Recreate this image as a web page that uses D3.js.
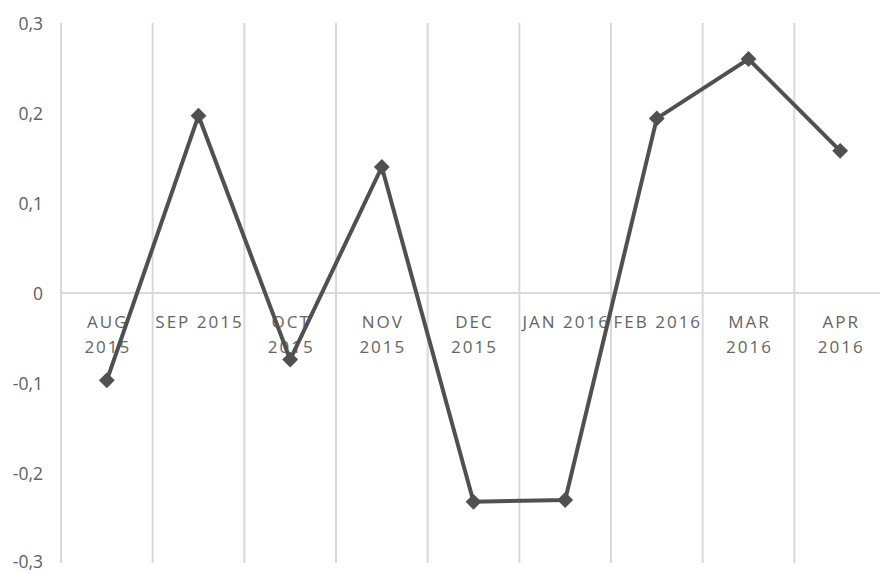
<!DOCTYPE html>
<html>
<head>
<meta charset="utf-8">
<script src="https://cdn.jsdelivr.net/npm/d3@7"></script>
<style>
  html, body { margin: 0; padding: 0; background: #fff; }
  svg { display: block; }
</style>
</head>
<body>
<svg id="chart" width="880" height="573"></svg>
<script>
const categories = [
  ["AUG", "2015"], ["SEP 2015"], ["OCT", "2015"], ["NOV", "2015"], ["DEC", "2015"],
  ["JAN 2016"], ["FEB 2016"], ["MAR", "2016"], ["APR", "2016"]
];
const values = [-0.097, 0.197, -0.074, 0.14, -0.232, -0.230, 0.194, 0.26, 0.158];
const yTicks = [-0.3, -0.2, -0.1, 0, 0.1, 0.2, 0.3];
const yTickLabels = ["-0,3", "-0,2", "-0,1", "0", "0,1", "0,2", "0,3"];

const svg = d3.select("#chart");
const plotLeft = 61, plotRight = 886, plotTop = 23, plotBottom = 563;

const x = d3.scaleBand().domain(d3.range(categories.length)).range([plotLeft, plotRight]).padding(0);
const y = d3.scaleLinear().domain([-0.3, 0.3]).range([plotBottom, plotTop]);

const grid = "#d9d9d9";
// vertical category separators
svg.append("g").selectAll("line").data(d3.range(categories.length)).join("line")
  .attr("x1", d => x(d)).attr("x2", d => x(d))
  .attr("y1", plotTop).attr("y2", plotBottom)
  .attr("stroke", grid).attr("stroke-width", 2);

// zero line
svg.append("line")
  .attr("x1", plotLeft).attr("x2", plotRight)
  .attr("y1", y(0)).attr("y2", y(0))
  .attr("stroke", grid).attr("stroke-width", 2);

// y axis labels
svg.append("g").selectAll("text").data(yTicks).join("text")
  .attr("x", 43).attr("y", d => Math.min(y(d), 561))
  .attr("text-anchor", "end").attr("dominant-baseline", "central")
  .attr("font-family", "'Open Sans', sans-serif").attr("font-size", 17.5)
  .attr("fill", "#606060")
  .text((d, i) => yTickLabels[i]);

// category labels
const cat = svg.append("g").selectAll("text").data(categories).join("text")
  .attr("text-anchor", "middle")
  .attr("font-family", "'Open Sans', sans-serif").attr("font-size", 17)
  .attr("letter-spacing", 2)
  .attr("fill", "#646464");
cat.each(function(lines, i) {
  const t = d3.select(this);
  lines.forEach((ln, j) => {
    t.append("tspan").attr("x", x(i) + x.bandwidth() / 2 + 1).attr("y", 328 + j * 25).text(ln);
  });
});

// line
const line = d3.line().x((d, i) => x(i) + x.bandwidth() / 2).y(d => y(d));
svg.append("path").datum(values)
  .attr("d", line).attr("fill", "none")
  .attr("stroke", "#505050").attr("stroke-width", 4).attr("stroke-linejoin", "miter");

// diamond markers
svg.append("g").selectAll("path").data(values).join("path")
  .attr("transform", (d, i) => `translate(${x(i) + x.bandwidth() / 2},${y(d)})`)
  .attr("d", d3.symbol().type(d3.symbolDiamond2).size(160))
  .attr("fill", "#505050");
</script>
</body>
</html>
